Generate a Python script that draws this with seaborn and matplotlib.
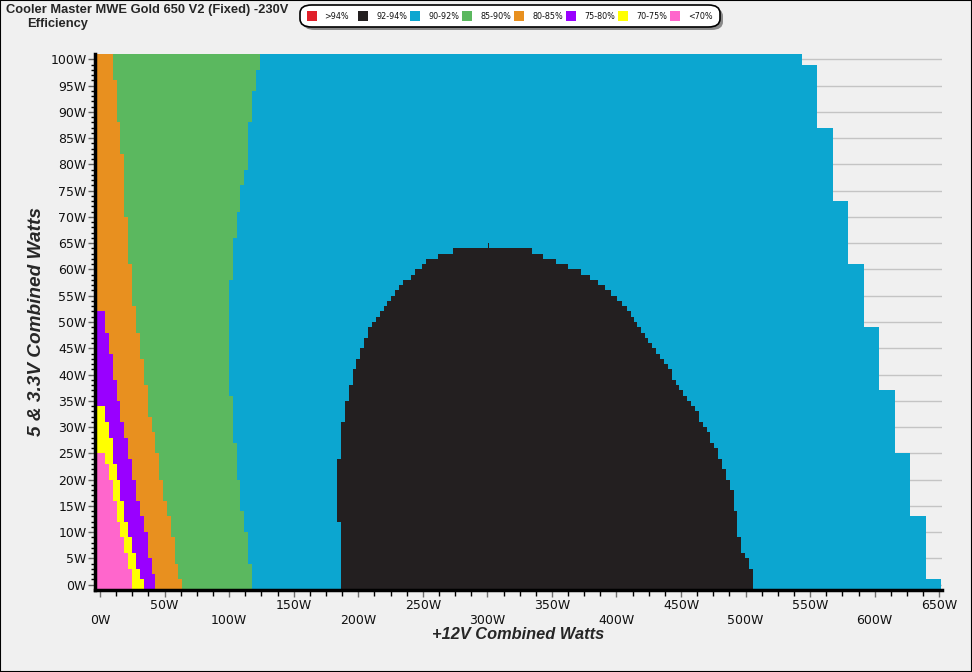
import numpy as np
import matplotlib
matplotlib.use("Agg")
import matplotlib.pyplot as plt
import seaborn as sns
from matplotlib.patches import Rectangle, FancyBboxPatch

# ---------------- data ----------------
CLASSES = [">94%", "92-94%", "90-92%", "85-90%", "80-85%", "75-80%", "70-75%", "<70%"]
COLORS = ["#e0202a", "#231f20", "#0ca6d0", "#5bb85f", "#e8901f", "#9900ff", "#ffff00", "#ff66cc"]

# 5V & 3.3V combined load rows (lower edge of each row, W)
ROW_MIN, ROW_MAX = -1, 101

# Right end (max 12V load) per row block: start row, 12V watts
MAX_Y = [-1, 1, 13, 25, 37, 49, 61, 73, 87, 99]
MAX_X = [651, 639.7, 627.3, 615.7, 603.3, 591.7, 579.3, 567.5, 555.1, 543.7]

# 85-90% band right end
GREEN_Y = [-1, 4, 10, 14, 20, 27, 36, 58, 66, 71, 76, 79, 88, 94, 98]
GREEN_X = [117.7, 114.6, 111.5, 108.4, 105.9, 102.8, 99.9, 102.8, 105.9, 108.4, 111.5, 114.6, 117.7, 120.8, 123.9]

# 80-85% band right end
ORANGE_Y = [-1, 1, 4, 9, 13, 16, 20, 25, 29, 32, 38, 43, 48, 53, 61, 70, 82, 88, 96]
ORANGE_X = [63.5, 60.4, 58.3, 55.2, 52.1, 49.0, 45.9, 42.8, 40.3, 37.2, 34.1, 31.0, 27.9, 24.8, 21.7, 18.6, 15.5, 12.9, 10.3]

# 75-80% band right end (present up to row 52)
PURPLE_Y = [-1, 2, 5, 10, 13, 16, 20, 24, 28, 31, 35, 39, 44, 48]
PURPLE_X = [42.6, 40.3, 37.2, 34.1, 31.0, 27.9, 24.8, 21.7, 18.6, 15.5, 13.2, 10.1, 7.0, 3.9]
PURPLE_TOP = 52

# 70-75% band right end (present up to row 34)
YELLOW_Y = [-1, 1, 3, 6, 9, 12, 16, 20, 23, 28, 31]
YELLOW_X = [34.1, 31.0, 27.9, 24.8, 21.7, 18.6, 15.5, 13.2, 10.1, 7.0, 3.9]
YELLOW_TOP = 34

# <70% band right end (present up to row 25)
PINK_Y = [-1, 3, 6, 9, 12, 16, 20, 23]
PINK_X = [24.8, 21.7, 18.6, 15.5, 13.2, 10.1, 7.0, 3.9]
PINK_TOP = 25

# 92-94% island: left and right ends
BLACK_L_Y = [-1, 12, 24, 31, 35, 38, 41, 43, 45, 47, 49, 50, 51, 52, 53, 54, 55, 56, 57, 58,
             59, 60, 61, 62, 63, 64]
BLACK_L_X = [186.6, 183.6, 186.6, 189.7, 192.8, 195.9, 198.3, 201.4, 204.5, 207.6, 210.7, 213.8,
             216.9, 220.0, 222.5, 225.6, 228.7, 231.8, 234.9, 241.1, 244.2, 249.4, 252.5, 261.8,
             273.6, 300.6]
BLACK_R_Y = [-1, 3, 5, 6, 9, 14, 18, 20, 22, 24, 26, 27, 29, 30, 31, 33, 34, 35, 36, 37,
             38, 39, 41, 42, 43, 44, 45, 46, 47, 48, 49, 50, 51, 52, 53, 54, 55, 56, 57, 58,
             59, 60, 61, 62, 63, 64]
BLACK_R_X = [505.5, 502.4, 499.3, 496.2, 493.1, 491.0, 487.9, 484.8, 481.7, 478.6, 475.5, 472.4,
             469.9, 467.0, 463.9, 460.8, 457.7, 454.8, 451.7, 448.7, 445.8, 443.0, 439.9, 436.6,
             433.7, 430.6, 427.7, 424.6, 422.1, 419.0, 415.9, 413.5, 411.2, 408.0, 404.2, 400.4,
             395.8, 391.1, 385.7, 379.5, 372.5, 362.5, 353.2, 343.3, 334.3, 301.4]
BLACK_TOP = 65

X_TICKS = list(range(0, 651, 50))
Y_TICKS = list(range(0, 101, 5))

TITLE = "Cooler Master MWE Gold 650 V2 (Fixed) -230V"
SUBTITLE = "Efficiency"
XLABEL = "+12V Combined Watts"
YLABEL = "5 & 3.3V Combined Watts"

# ---------------- helpers ----------------
X0 = -3.9
W, H = 972, 672


def expand(ys, xs, top):
    rows = np.arange(ROW_MIN, top)
    idx = np.searchsorted(np.asarray(ys), rows, side="right") - 1
    vals = np.asarray(xs, dtype=float)[idx]
    edges = np.arange(ROW_MIN, top + 1)
    vals = np.append(vals, vals[-1])
    return edges, vals


def fx(px):
    return px / W


def fy(py):
    return 1 - py / H


# ---------------- plot ----------------
sns.set_theme(style="white")
plt.rcParams["font.family"] = ["DejaVu Sans"]
BG = "#f0f0f0"

fig = plt.figure(figsize=(9.72, 6.72), dpi=100, facecolor=BG)
ax = fig.add_axes([fx(95), fy(590), 847 / W, 536 / H])
ax.set_facecolor(BG)

layers = [
    (MAX_Y, MAX_X, ROW_MAX, COLORS[2]),
    (GREEN_Y, GREEN_X, ROW_MAX, COLORS[3]),
    (ORANGE_Y, ORANGE_X, ROW_MAX, COLORS[4]),
    (PURPLE_Y, PURPLE_X, PURPLE_TOP, COLORS[5]),
    (YELLOW_Y, YELLOW_X, YELLOW_TOP, COLORS[6]),
    (PINK_Y, PINK_X, PINK_TOP, COLORS[7]),
]
for ys, xs, top, col in layers:
    e, v = expand(ys, xs, top)
    ax.fill_betweenx(e, X0, v, step="post", color=col, linewidth=0, zorder=2)

eL, vL = expand(BLACK_L_Y, BLACK_L_X, BLACK_TOP)
eR, vR = expand(BLACK_R_Y, BLACK_R_X, BLACK_TOP)
ax.fill_betweenx(eL, vL, vR, step="post", color=COLORS[1], linewidth=0, zorder=3)

ax.set_xlim(X0, 652.1)
ax.set_ylim(ROW_MIN, ROW_MAX)

# grid
for yv in Y_TICKS:
    ax.axhline(yv, color="#c4c4c4", lw=1.0, zorder=1)

# ticks
ax.set_yticks(Y_TICKS)
ax.set_yticklabels([f"{v}W" for v in Y_TICKS])
ax.set_yticks(np.arange(0, 101, 1), minor=True)
ax.set_xticks(X_TICKS)
ax.set_xticklabels([(f"\n{v}W" if (v // 50) % 2 == 0 else f"{v}W") for v in X_TICKS])
ax.set_xticks(np.arange(0, 651, 12.5), minor=True)
ax.tick_params(axis="y", which="major", length=5, width=1, color="#606060", labelsize=9,
               pad=1, left=True)
ax.tick_params(axis="y", which="minor", length=3, width=1, color="black", left=True)
ax.tick_params(axis="x", which="major", length=5, width=1, color="#707070", labelsize=9,
               pad=1.5, bottom=True)
ax.tick_params(axis="x", which="minor", length=4, width=1, color="black", bottom=True)
for lbl in ax.get_xticklabels() + ax.get_yticklabels():
    lbl.set_color("#111111")

for s in ["top", "right"]:
    ax.spines[s].set_visible(False)
for s in ["left", "bottom"]:
    ax.spines[s].set_color("black")
    ax.spines[s].set_linewidth(2.5)
    ax.spines[s].set_zorder(5)

fam = ["Liberation Sans", "DejaVu Sans"]
ax.set_xlabel(XLABEL, family=fam, weight="bold", style="italic", size=11.8, labelpad=0)
ax.set_ylabel(YLABEL, family=fam, weight="bold", style="italic", size=13.7, labelpad=4)

fig.text(fx(6), fy(10), TITLE, ha="left", va="center", fontsize=9.3,
         fontweight="bold", family=fam)
fig.text(fx(27), fy(24), SUBTITLE, ha="left", va="center", fontsize=9.3,
         fontweight="bold", family=fam)

# legend (manual, fixed-width items)
shadow = FancyBboxPatch((fx(303), fy(30)), fx(720) - fx(300), fy(5) - fy(27),
                        boxstyle="round,pad=0,rounding_size=0.012",
                        transform=fig.transFigure, facecolor="#8a8a8a", edgecolor="none",
                        zorder=9)
box = FancyBboxPatch((fx(300), fy(27)), fx(720) - fx(300), fy(5) - fy(27),
                     boxstyle="round,pad=0,rounding_size=0.012",
                     transform=fig.transFigure, facecolor="white", edgecolor="black",
                     linewidth=1.2, zorder=10)
fig.patches.extend([shadow, box])
for i, (lab, col) in enumerate(zip(CLASSES, COLORS)):
    x = 306.5 + i * 51.9
    fig.patches.append(Rectangle((fx(x), fy(21)), 10 / W, 10 / H, transform=fig.transFigure,
                                 facecolor=col, edgecolor="none", zorder=11))
    fig.text(fx(x + 18), fy(16.5), lab, ha="left", va="center", fontsize=5.8,
             color="#111111", zorder=12)

fig.patches.append(Rectangle((0, 0), 1, 1, transform=fig.transFigure, fill=False,
                             edgecolor="black", linewidth=1.5))

fig.savefig("out.png", dpi=100, facecolor=BG)
